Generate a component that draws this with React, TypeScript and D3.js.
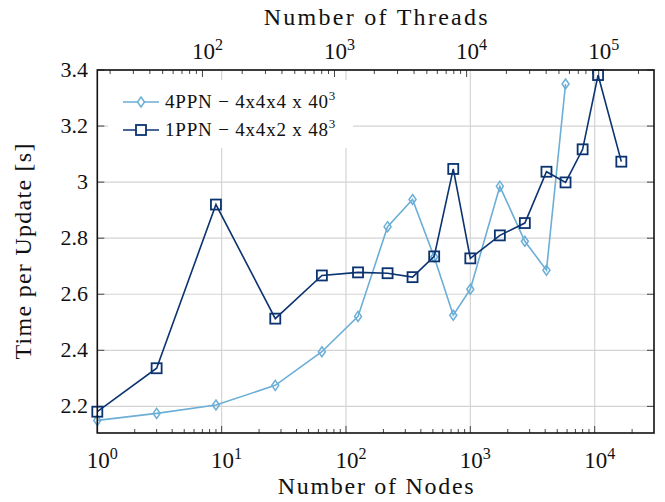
import React from "react";
import * as d3 from "d3";

// nodes used for each run
const nodes4PPN = [1, 3, 9, 27, 64, 125, 216, 343, 512, 729, 1000, 1728, 2744, 4096, 5832];
const time4PPN = [2.15, 2.175, 2.205, 2.275, 2.395, 2.521, 2.841, 2.938, 2.733, 2.525, 2.618, 2.985, 2.789, 2.686, 3.35];

const nodes1PPN = [1, 3, 9, 27, 64, 125, 216, 343, 512, 729, 1000, 1728, 2744, 4096, 5832, 8000, 10648, 16384];
const time1PPN = [2.181, 2.336, 2.92, 2.513, 2.667, 2.678, 2.675, 2.661, 2.735, 3.047, 2.728, 2.81, 2.854, 3.037, 2.999, 3.117, 3.382, 3.073];

const yTicks = [2.2, 2.4, 2.6, 2.8, 3.0, 3.2, 3.4];
const nodeDecades = [0, 1, 2, 3, 4];
const threadDecades = [2, 3, 4, 5];

const legendLabels = [
  { name: "4PPN − 4x4x4 x 40", sup: "3" },
  { name: "1PPN − 4x4x2 x 48", sup: "3" },
];

const colors = ["#6baed6", "#0b3370"];
const font = "'Liberation Serif', 'DejaVu Serif', serif";

const W = 665;
const H = 502;
const margin = { left: 97.3, right: 11, top: 70, bottom: 69 };

function minorTicks(lo: number, hi: number) {
  const out: number[] = [];
  for (let d = Math.floor(Math.log10(lo)); d <= Math.ceil(Math.log10(hi)); d++) {
    for (let m = 2; m <= 9; m++) {
      const v = m * Math.pow(10, d);
      if (v > lo && v < hi) out.push(v);
    }
  }
  return out;
}

function Pow({ x, y, exp, size }: { x: number; y: number; exp: number; size: number }) {
  return (
    <text x={x} y={y} textAnchor="middle" fontFamily={font} fontSize={size} fill="#111">
      10
      <tspan dy={-9} fontSize={size * 0.7}>
        {exp}
      </tspan>
    </text>
  );
}

export default function App() {
  const x0 = margin.left;
  const x1 = W - margin.right;
  const y0 = margin.top;
  const y1 = H - margin.bottom;

  const x = d3.scaleLog().domain([1, 30000]).range([x0, x1]);
  const xTop = d3.scaleLog().domain([16, 262144]).range([x0, x1]);
  const y = d3.scaleLinear().domain([2.105, 3.4]).range([y1, y0]);

  const line = d3
    .line<[number, number]>()
    .x((d) => x(d[0]))
    .y((d) => y(d[1]));

  const pts4 = nodes4PPN.map((n, i) => [n, time4PPN[i]] as [number, number]);
  const pts1 = nodes1PPN.map((n, i) => [n, time1PPN[i]] as [number, number]);

  const diamond = (cx: number, cy: number) =>
    `M${cx},${cy - 5} L${cx + 3.5},${cy} L${cx},${cy + 5} L${cx - 3.5},${cy} Z`;

  const grid = "#d4d4d4";
  const major = 7;
  const minor = 4;

  return (
    <svg width={W} height={H} style={{ position: "absolute", left: 0, top: 0, background: "#fff" }}>
      {/* grid */}
      {yTicks.map((t) => (
        <line key={"gy" + t} x1={x0} x2={x1} y1={y(t)} y2={y(t)} stroke={grid} strokeWidth={1.2} />
      ))}
      {nodeDecades.slice(1).map((d) => (
        <line key={"gx" + d} x1={x(Math.pow(10, d))} x2={x(Math.pow(10, d))} y1={y0} y2={y1} stroke={grid} strokeWidth={1.2} />
      ))}

      {/* bottom ticks */}
      {nodeDecades.map((d) => (
        <line key={"bt" + d} x1={x(Math.pow(10, d))} x2={x(Math.pow(10, d))} y1={y1} y2={y1 - major} stroke="#444" />
      ))}
      {minorTicks(1, 30000).map((v) => (
        <line key={"bm" + v} x1={x(v)} x2={x(v)} y1={y1} y2={y1 - minor} stroke="#444" />
      ))}
      {/* top ticks */}
      {threadDecades.map((d) => (
        <line key={"tt" + d} x1={xTop(Math.pow(10, d))} x2={xTop(Math.pow(10, d))} y1={y0} y2={y0 + major} stroke="#444" />
      ))}
      {minorTicks(16, 262144).map((v) => (
        <line key={"tm" + v} x1={xTop(v)} x2={xTop(v)} y1={y0} y2={y0 + minor} stroke="#444" />
      ))}
      {/* y ticks both sides */}
      {yTicks.map((t) => (
        <g key={"yt" + t}>
          <line x1={x0} x2={x0 + major} y1={y(t)} y2={y(t)} stroke="#444" />
          <line x1={x1} x2={x1 - major} y1={y(t)} y2={y(t)} stroke="#444" />
        </g>
      ))}

      {/* legend background */}
      <rect x={108} y={80} width={245} height={68} fill="#fff" />

      {/* series */}
      <path d={line(pts4) || ""} fill="none" stroke={colors[0]} strokeWidth={1.6} />
      {pts4.map((p, i) => (
        <path key={"d" + i} d={diamond(x(p[0]), y(p[1]))} fill="none" stroke={colors[0]} strokeWidth={1.5} />
      ))}
      <path d={line(pts1) || ""} fill="none" stroke={colors[1]} strokeWidth={1.6} />
      {pts1.map((p, i) => (
        <rect key={"s" + i} x={x(p[0]) - 5} y={y(p[1]) - 5} width={10} height={10} fill="none" stroke={colors[1]} strokeWidth={1.8} />
      ))}

      {/* frame */}
      <rect x={x0} y={y0} width={x1 - x0} height={y1 - y0} fill="none" stroke="#111" strokeWidth={1.6} />

      {/* legend */}
      {legendLabels.map((l, i) => {
        const ly = 102 + i * 28;
        return (
          <g key={"lg" + i}>
            <line x1={123} x2={159} y1={ly} y2={ly} stroke={colors[i]} strokeWidth={1.6} />
            {i === 0 ? (
              <path d={diamond(141, ly)} fill="#fff" stroke={colors[0]} strokeWidth={1.5} />
            ) : (
              <rect x={136} y={ly - 5} width={10} height={10} fill="#fff" stroke={colors[1]} strokeWidth={1.8} />
            )}
            <text x={165} y={ly + 6} fontFamily={font} fontSize={19} fill="#111">
              <tspan textLength={163} lengthAdjust="spacing">{l.name}</tspan>
              <tspan dy={-8} fontSize={13}>
                {l.sup}
              </tspan>
            </text>
          </g>
        );
      })}

      {/* tick labels */}
      {yTicks.map((t) => (
        <text key={"yl" + t} x={88} y={y(t) + 7} textAnchor="end" fontFamily={font} fontSize={22} fill="#111">
          {d3.format("~g")(t)}
        </text>
      ))}
      {nodeDecades.map((d) => (
        <Pow key={"bl" + d} x={x(Math.pow(10, d)) + 5} y={468} exp={d} size={23} />
      ))}
      {threadDecades.map((d) => (
        <Pow key={"tl" + d} x={xTop(Math.pow(10, d)) + 5} y={59} exp={d} size={23} />
      ))}

      {/* axis titles */}
      <text x={(x0 + x1) / 2} y={494} textAnchor="middle" fontFamily={font} fontSize={24} fill="#111" textLength={196} lengthAdjust="spacing">
        Number of Nodes
      </text>
      <text x={(x0 + x1) / 2} y={25} textAnchor="middle" fontFamily={font} fontSize={24} fill="#111" textLength={224} lengthAdjust="spacing">
        Number of Threads
      </text>
      <text
        transform={`translate(31, ${(y0 + y1) / 2}) rotate(-90)`}
        textAnchor="middle"
        fontFamily={font}
        fontSize={24}
        fill="#111"
        textLength={216}
        lengthAdjust="spacing"
      >
        Time per Update [s]
      </text>
    </svg>
  );
}
